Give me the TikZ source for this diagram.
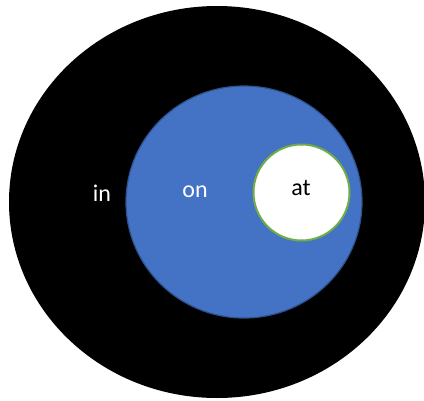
\documentclass[tikz,border=0pt]{standalone}
\usepackage{fontspec}
\setmainfont{Carlito}
\definecolor{blueF}{HTML}{4472C4}
\definecolor{blueB}{HTML}{2F528F}
\definecolor{greenB}{HTML}{70AD47}
\begin{document}
\begin{tikzpicture}[x=1pt,y=-1pt,
  lbl/.style={font=\fontsize{24}{28}\selectfont, inner sep=0pt, anchor=center}]
\useasboundingbox (0,0) rectangle (424,400);
\fill[white] (0,0) rectangle (424,400);
\fill[black] (217,202) ellipse [x radius=208, y radius=196];
\draw[blueB, fill=blueF, line width=1.2pt] (244,202) ellipse [x radius=118, y radius=116];
\draw[greenB, fill=white, line width=2pt] (301.5,192.5) ellipse [x radius=48, y radius=48];
\node[lbl, text=white] (in) at (102,193) {in};
\node[lbl, text=white] (on) at (195,192) {on};
\node[lbl, text=black] (at) at (301,188) {at};
\end{tikzpicture}
\end{document}
